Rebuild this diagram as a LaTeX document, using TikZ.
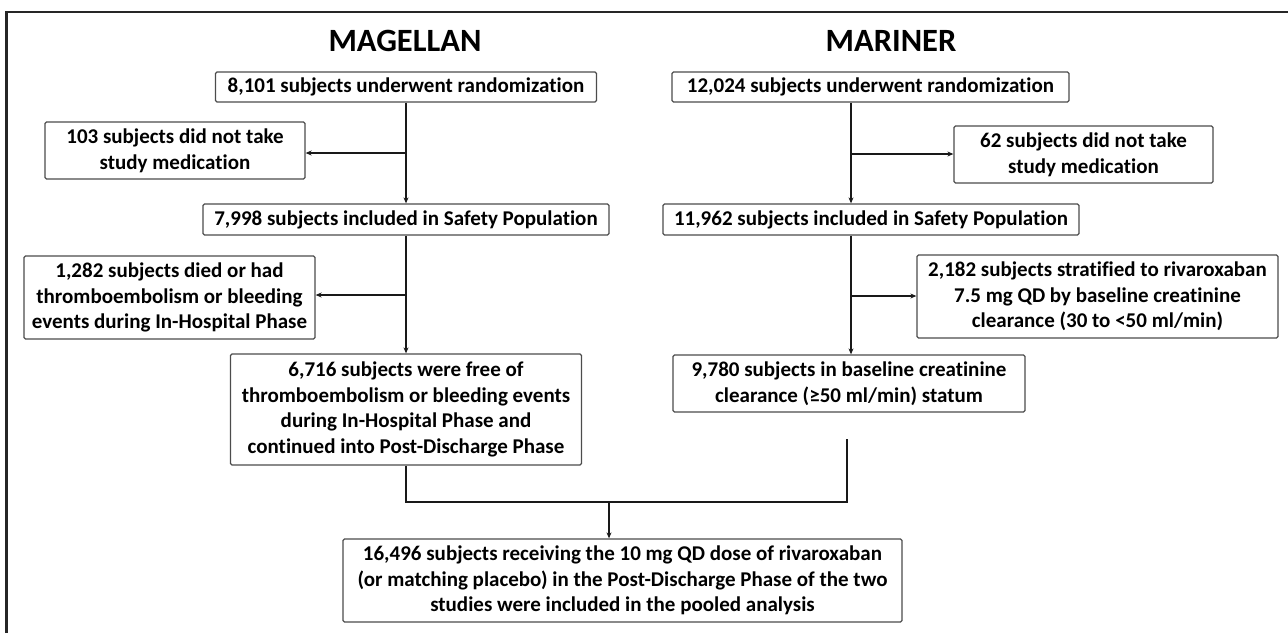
\documentclass[tikz,border=0pt]{standalone}
\usepackage{fontspec}
\setmainfont{Carlito}[Ligatures=NoCommon]
\usetikzlibrary{arrows.meta}
\begin{document}
\begin{tikzpicture}[x=1pt,y=-1pt,
    box/.style={rectangle,rounded corners=1.5pt,draw=black!70,line width=1.3pt,align=center,inner sep=0pt,font=\fontsize{21}{25.7}\selectfont\bfseries},
    title/.style={font=\fontsize{32.5}{38}\selectfont\bfseries},
    link/.style={line width=2pt,black!90},
    arr/.style={link,-{Stealth[length=6pt,width=5pt]}}]
  \useasboundingbox (0,0) rectangle (1288,633);
  \draw[line width=2.5pt,black!85] (6.5,633) -- (6.5,12) -- (1288,12);
  \node[title] (magellan) at (405,41) {MAGELLAN};
  \node[title] (mariner) at (891,41) {MARINER};
  % MAGELLAN
  \node[box,minimum width=381pt,minimum height=30pt] (a1) at (406,87) {8,101 subjects underwent randomization};
  \node[box,minimum width=260pt,minimum height=57pt] (a2) at (175,150.5) {103 subjects did not take\\study medication};
  \node[box,minimum width=406pt,minimum height=31pt] (a3) at (406,219.5) {7,998 subjects included in Safety Population};
  \node[box,minimum width=291pt,minimum height=83pt] (a4) at (169.5,297.5) {1,282 subjects died or had\\thromboembolism or bleeding\\events during In-Hospital Phase};
  \node[box,minimum width=351pt,minimum height=111pt] (a5) at (406,409.5) {6,716 subjects were free of\\thromboembolism or bleeding events\\during In-Hospital Phase and\\continued into Post-Discharge Phase};
  % MARINER
  \node[box,minimum width=397pt,minimum height=30pt] (b1) at (870.5,87) {12,024 subjects underwent randomization};
  \node[box,minimum width=259pt,minimum height=57pt] (b2) at (1083.5,154.5) {62 subjects did not take\\study medication};
  \node[box,minimum width=416pt,minimum height=31pt] (b3) at (871,219.5) {11,962 subjects included in Safety Population};
  \node[box,minimum width=361pt,minimum height=83pt] (b4) at (1097.5,296.5) {2,182 subjects stratified to rivaroxaban\\7.5 mg QD by baseline creatinine\\clearance (30 to <50 ml/min)};
  \node[box,minimum width=352pt,minimum height=57pt] (b5) at (849,383.5) {9,780 subjects in baseline creatinine\\clearance (≥50 ml/min) statum};
  % pooled
  \node[box,minimum width=559pt,minimum height=83pt] (pool) at (622.5,580.5) {16,496 subjects receiving the 10 mg QD dose of rivaroxaban\\(or matching placebo) in the Post-Discharge Phase of the two\\studies were included in the pooled analysis};
  % connectors
  \coordinate (ma) at (406,153);
  \coordinate (mb) at (406,295);
  \coordinate (ra) at (851,154);
  \coordinate (rb) at (851,296);
  \coordinate (rend) at (847,439);
  \coordinate (join) at (609,502);
  \draw[arr] (a1.south) -- (a3.north);
  \draw[arr] (ma) -- (ma -| a2.east);
  \draw[arr] (a3.south) -- (a5.north);
  \draw[arr] (mb) -- (mb -| a4.east);
  \draw[arr] (b1.south -| ra) -- (b3.north -| ra);
  \draw[arr] (ra) -- (ra -| b2.west);
  \draw[arr] (b3.south -| ra) -- (b5.north -| ra);
  \draw[arr] (rb) -- (rb -| b4.west);
  \draw[link] (a5.south) -- (a5.south |- join) -- (join -| rend) -- (rend);
  \draw[arr] (join) -- (pool.north -| join);
\end{tikzpicture}
\end{document}
